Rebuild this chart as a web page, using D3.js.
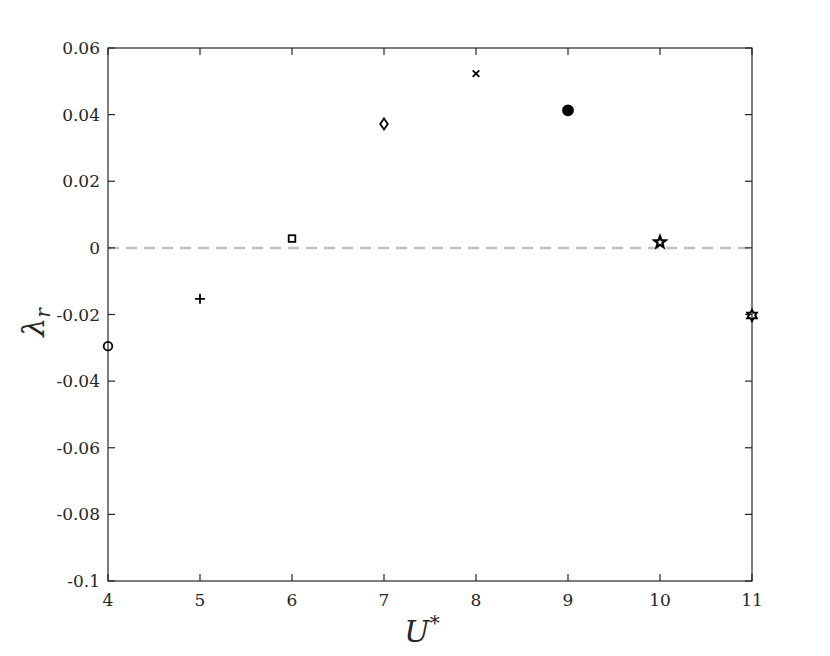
<!DOCTYPE html>
<html>
<head>
<meta charset="utf-8">
<script src="https://cdn.jsdelivr.net/npm/d3@7"></script>
<style>
  body { margin: 0; background: #fff; }
  svg text { font-family: "DejaVu Serif", serif; }
</style>
</head>
<body>
<script>
var uStar   = [4, 5, 6, 7, 8, 9, 10, 11];
var lambdaR = [-0.0295, -0.0153, 0.0028, 0.0372, 0.0523, 0.0413, 0.0017, -0.0203];
var markers = ["circle", "plus", "square", "diamond", "cross", "dot", "star", "hexagram"];
var xTicks = [4, 5, 6, 7, 8, 9, 10, 11];
var yTicks = [-0.1, -0.08, -0.06, -0.04, -0.02, 0, 0.02, 0.04, 0.06];
var yTickLabels = ["-0.1", "-0.08", "-0.06", "-0.04", "-0.02", "0", "0.02", "0.04", "0.06"];

var W = 830, H = 656;
var m = {left: 108, right: 78, top: 48, bottom: 75};

var svg = d3.select("body").append("svg").attr("width", W).attr("height", H);

var x = d3.scaleLinear().domain([4, 11]).range([m.left, W - m.right]);
var y = d3.scaleLinear().domain([-0.1, 0.06]).range([H - m.bottom, m.top]);

// zero reference line
svg.append("line")
  .attr("x1", x(4)).attr("x2", x(11))
  .attr("y1", y(0)).attr("y2", y(0))
  .attr("stroke", "#c0c0c0").attr("stroke-width", 2.5)
  .attr("stroke-dasharray", "11,7");

var tl = 7;
var g = svg.append("g").attr("stroke", "#262626").attr("stroke-width", 1.2);
g.append("rect").attr("x", x(4)).attr("y", y(0.06))
  .attr("width", x(11) - x(4)).attr("height", y(-0.1) - y(0.06))
  .attr("fill", "none");
xTicks.forEach(function(t){
  g.append("line").attr("x1", x(t)).attr("x2", x(t)).attr("y1", y(-0.1)).attr("y2", y(-0.1) - tl);
  g.append("line").attr("x1", x(t)).attr("x2", x(t)).attr("y1", y(0.06)).attr("y2", y(0.06) + tl);
});
yTicks.forEach(function(t){
  g.append("line").attr("x1", x(4)).attr("x2", x(4) + tl).attr("y1", y(t)).attr("y2", y(t));
  g.append("line").attr("x1", x(11)).attr("x2", x(11) - tl).attr("y1", y(t)).attr("y2", y(t));
});

svg.selectAll(".xt").data(xTicks).enter().append("text")
  .attr("x", function(d){ return x(d); })
  .attr("y", y(-0.1) + 25)
  .attr("text-anchor", "middle")
  .attr("font-size", 17).attr("fill", "#262626")
  .text(function(d){ return d; });

svg.selectAll(".yt").data(yTicks).enter().append("text")
  .attr("x", x(4) - 8)
  .attr("y", function(d){ return y(d) + 6; })
  .attr("text-anchor", "end")
  .attr("font-size", 17).attr("fill", "#262626")
  .text(function(d, i){ return yTickLabels[i]; });

svg.append("text").attr("x", (x(4) + x(11)) / 2 - 8).attr("y", 642)
  .attr("text-anchor", "middle").attr("font-size", 30).attr("font-style", "italic")
  .attr("fill", "#262626")
  .html('U<tspan dy="-12" font-size="20" font-style="normal">*</tspan>');

svg.append("text")
  .attr("transform", "translate(44," + (y(-0.02) + 8) + ") rotate(-90)")
  .attr("text-anchor", "middle").attr("font-size", 30).attr("font-style", "italic")
  .attr("fill", "#262626")
  .html('λ<tspan dy="6" font-size="20">r</tspan>');

function starPath(n, ro, ri) {
  var p = [];
  for (var i = 0; i < 2 * n; i++) {
    var r = i % 2 === 0 ? ro : ri;
    var a = -Math.PI / 2 + i * Math.PI / n;
    p.push([r * Math.cos(a), r * Math.sin(a)]);
  }
  return "M" + p.map(function(q){ return q[0].toFixed(2) + "," + q[1].toFixed(2); }).join("L") + "Z";
}

var mk = svg.selectAll(".pt").data(uStar).enter().append("g")
  .attr("transform", function(d, i){ return "translate(" + x(d) + "," + y(lambdaR[i]) + ")"; });

mk.each(function(d, i){
  var s = d3.select(this);
  var k = markers[i];
  var st = {stroke: "#000", "stroke-width": 1.8, fill: "none"};
  var el;
  if (k === "circle") el = s.append("circle").attr("r", 4.3);
  else if (k === "plus") el = s.append("path").attr("d", "M-5,0H5M0,-5V5");
  else if (k === "square") el = s.append("rect").attr("x", -3.3).attr("y", -3.3).attr("width", 6.6).attr("height", 6.6);
  else if (k === "diamond") el = s.append("path").attr("d", "M0,-5.5L3.8,0L0,5.5L-3.8,0Z");
  else if (k === "cross") el = s.append("path").attr("d", "M-3.3,-3.3L3.3,3.3M-3.3,3.3L3.3,-3.3");
  else if (k === "dot") { el = s.append("circle").attr("r", 5); st.fill = "#000"; }
  else if (k === "star") { el = s.append("path").attr("d", starPath(5, 6, 2.5)); st["stroke-width"] = 2.2; }
  else if (k === "hexagram") { el = s.append("path").attr("d", starPath(6, 5.5, 3.2)); st["stroke-width"] = 2; }
  for (var a in st) el.attr(a, st[a]);
});
</script>
</body>
</html>
